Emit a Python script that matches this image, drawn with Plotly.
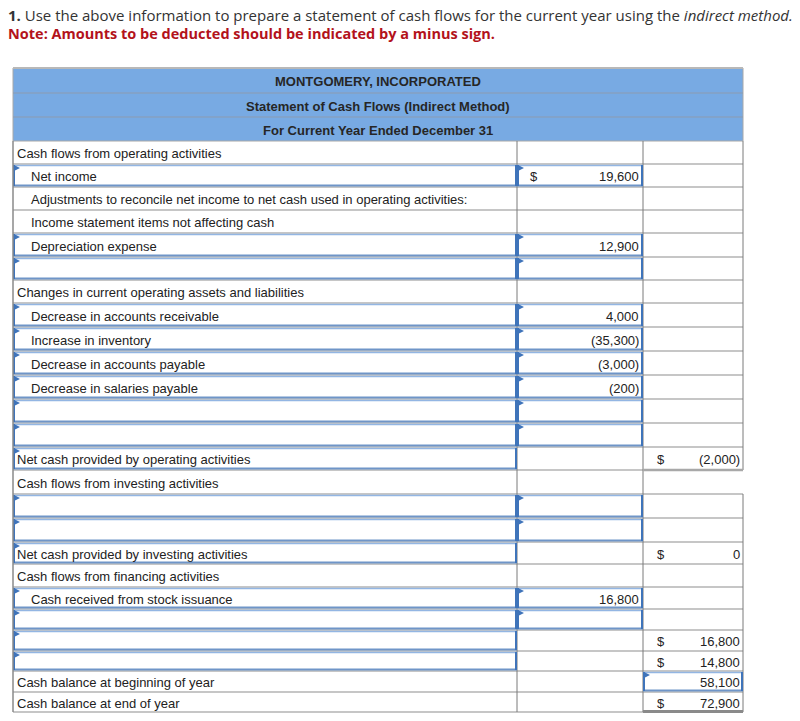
import plotly.graph_objects as go

# ---- data ----
intro_text = "Use the above information to prepare a statement of cash flows for the current year using the "
intro_italic = "indirect method."
note_text = "Note: Amounts to be deducted should be indicated by a minus sign."

header_lines = ["MONTGOMERY, INCORPORATED",
                "Statement of Cash Flows (Indirect Method)",
                "For Current Year Ended December 31"]

labels = [
    "Cash flows from operating activities",
    "Net income",
    "Adjustments to reconcile net income to net cash used in operating activities:",
    "Income statement items not affecting cash",
    "Depreciation expense",
    "",
    "Changes in current operating assets and liabilities",
    "Decrease in accounts receivable",
    "Increase in inventory",
    "Decrease in accounts payable",
    "Decrease in salaries payable",
    "",
    "",
    "Net cash provided by operating activities",
    "Cash flows from investing activities",
    "",
    "",
    "Net cash provided by investing activities",
    "Cash flows from financing activities",
    "Cash received from stock issuance",
    "",
    "",
    "",
    "Cash balance at beginning of year",
    "Cash balance at end of year",
]

col1_amounts = [None, 19600, None, None, 12900, None, None, 4000, -35300, -3000, -200,
                None, None, None, None, None, None, None, None, 16800, None, None, None,
                None, None]
col2_amounts = [None, None, None, None, None, None, None, None, None, None, None,
                None, None, -2000, None, None, None, 0, None, None, None, 16800, 14800,
                58100, 72900]

col1_dollar_rows = [1]
col2_dollar_rows = [13, 17, 21, 22, 24]

# ---- layout / styling ----
indented_rows = {1, 2, 3, 4, 7, 8, 9, 10, 19}
label_input_rows = {1, 4, 5, 7, 8, 9, 10, 11, 12, 13, 15, 16, 17, 19, 20, 21, 22}
col1_input_rows = {1, 4, 5, 7, 8, 9, 10, 11, 12, 15, 16, 19, 20}
col2_input_rows = {23}
no_right_border_rows = {14}

X_LEFT, X_C1, X_C2, X_RIGHT = 13, 517, 643, 743
HEADER_EDGES = [68, 93, 117, 141]
ROW_EDGES = [141, 164, 187, 210, 233, 257, 280, 303, 327, 351, 375, 399, 423, 447,
             470, 494, 518, 542, 564, 587, 609, 630, 651, 671, 692, 712]

FONT = "Liberation Sans, Arial, sans-serif"
TXT = "#222222"
HEAD_BG = "#78aae3"
GRID = "#c6c6c6"
DIV = "#7a7a7a"
BLUE_DARK = "#3f74ba"
BLUE_LIGHT = "#93b6e3"


def fmt(v):
    if v is None:
        return ""
    return "({:,})".format(abs(v)) if v < 0 else "{:,}".format(v)


shapes = []
annotations = []


def line(x0, y0, x1, y1, color, width):
    shapes.append(dict(type="line", x0=x0, y0=y0, x1=x1, y1=y1,
                       line=dict(color=color, width=width), layer="above"))


def text(x, y, s, anchor="left", size=13, color=TXT, family=FONT):
    annotations.append(dict(x=x, y=y, text=s, showarrow=False, xanchor=anchor,
                            yanchor="middle", font=dict(family=family, size=size, color=color)))


def input_box(x0, x1, y0, y1, right=True):
    shapes.append(dict(type="rect", x0=x0, x1=x1, y0=y0 + 1, y1=y1 - 1,
                       fillcolor="white", line=dict(width=0), layer="above"))
    line(x0, y0 + 1.5, x1, y0 + 1.5, BLUE_LIGHT, 1.5)
    line(x0, y1 - 1.5, x1, y1 - 1.5, "#6f95c8", 2)
    line(x0 + 1, y0 + 1, x0 + 1, y1 - 1, BLUE_DARK, 2)
    if right:
        line(x1 - 1, y0 + 1, x1 - 1, y1 - 1, BLUE_DARK, 2)
    shapes.append(dict(type="path",
                       path="M {} {} L {} {} L {} {} Z".format(x0 + 1, y0 + 1, x0 + 7, y0 + 4,
                                                               x0 + 1, y0 + 7),
                       fillcolor=BLUE_DARK, line=dict(width=0), layer="above"))


# header block
shapes.append(dict(type="rect", x0=X_LEFT, x1=X_RIGHT, y0=HEADER_EDGES[0], y1=HEADER_EDGES[-1],
                   fillcolor=HEAD_BG, line=dict(color="#a8a8a8", width=1)))
line(X_LEFT, HEADER_EDGES[0], X_RIGHT, HEADER_EDGES[0], "#b8b8b8", 2)
for i, h in enumerate(header_lines):
    y0, y1 = HEADER_EDGES[i], HEADER_EDGES[i + 1]
    if i > 0:
        line(X_LEFT, y0, X_RIGHT, y0, "#8c9bb0", 1)
    text((X_LEFT + X_RIGHT) / 2, (y0 + y1) / 2 + 1, "<b>" + h + "</b>", anchor="center",
         size=13, color="#262626")

# body rows
for i, lab in enumerate(labels):
    y0, y1 = ROW_EDGES[i], ROW_EDGES[i + 1]
    ym = (y0 + y1) / 2 + 1
    line(X_LEFT, y1, X_RIGHT, y1, GRID, 2)
    line(X_C1, y0, X_C1, y1, DIV, 1)
    line(X_C2, y0, X_C2, y1, DIV, 1)
    if i not in no_right_border_rows:
        line(X_RIGHT, y0, X_RIGHT, y1, DIV, 1)
    if i in label_input_rows:
        input_box(X_LEFT, X_C1, y0, y1)
    if i in col1_input_rows:
        input_box(X_C1, X_C2, y0, y1)
    if i in col2_input_rows:
        input_box(X_C2, X_RIGHT, y0, y1)
    if lab:
        x_txt = 29 if i in indented_rows else 15
        text(x_txt, ym, lab)
    if col1_amounts[i] is not None:
        text(X_C2 - 2, ym, fmt(col1_amounts[i]), anchor="right")
    if i in col1_dollar_rows:
        text(X_C1 + 11, ym, "$", anchor="left")
    if col2_amounts[i] is not None:
        text(X_RIGHT - 1, ym, fmt(col2_amounts[i]), anchor="right")
    if i in col2_dollar_rows:
        text(X_C2 + 12, ym, "$", anchor="left")

line(X_LEFT, ROW_EDGES[0], X_LEFT, ROW_EDGES[-1], "#8a8a8a", 1.5)
# double rule under the final total
line(X_C2, ROW_EDGES[-1] - 0.5, X_RIGHT, ROW_EDGES[-1] - 0.5, "#8a8a8a", 3)
# thicker rule under the operating total
line(X_C2, ROW_EDGES[14], X_RIGHT, ROW_EDGES[14], "#a8a8a8", 2.5)

# intro text
text(6, 15, "<b>1.</b> " + intro_text + "<i>" + intro_italic + "</i>", size=15,
     color="#333333", family="Open Sans, sans-serif")
text(6, 33, "<b>" + note_text + "</b>", size=14.5, color="#b3121b", family="Open Sans, sans-serif")

fig = go.Figure()
fig.update_layout(
    width=800, height=721,
    margin=dict(l=0, r=0, t=0, b=0),
    paper_bgcolor="white", plot_bgcolor="white",
    xaxis=dict(range=[0, 800], visible=False, fixedrange=True),
    yaxis=dict(range=[721, 0], visible=False, fixedrange=True),
    shapes=shapes, annotations=annotations, showlegend=False,
)
fig.write_html("out.html", config={"displayModeBar": False},
               post_script="document.body.style.margin='0';")
